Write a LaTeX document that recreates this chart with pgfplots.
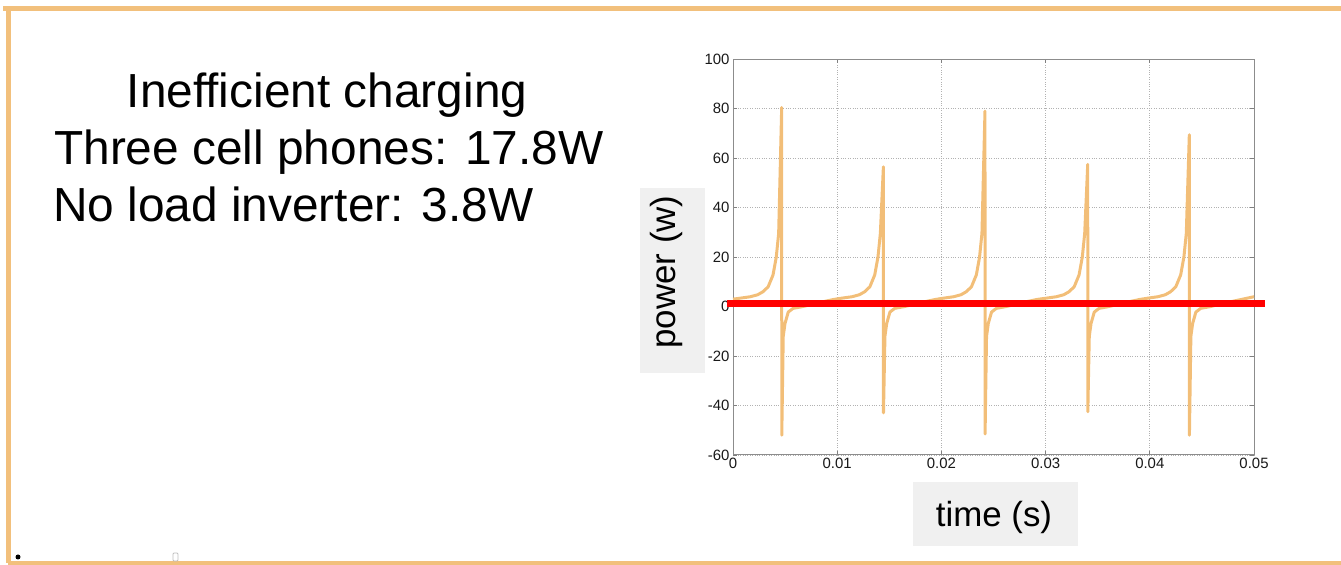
\documentclass[border=0pt]{standalone}
\usepackage{pgfplots}
\pgfplotsset{compat=1.18}
\usepackage{fontspec}
\setmainfont{Liberation Sans}
\definecolor{curve}{RGB}{242,190,120}
\definecolor{frame}{RGB}{242,192,124}
\definecolor{boxgray}{RGB}{240,240,240}
\begin{document}
\begin{tikzpicture}[x=1bp,y=1bp]
\path[use as bounding box] (0,0) rectangle (1341,565);
% slide frame
\draw[frame, line width=5bp] (8,2) -- (8,556.5);
\draw[frame, line width=5bp] (3,556.5) -- (1341,556.5);
\draw[frame, line width=4bp] (8,2) -- (1341,2);
\fill[black] (18,8) circle (2.5);
\draw[black!25, line width=0.8bp, rounded corners=1bp] (173,4) rectangle (178,12);
% left text
\node[anchor=base, inner sep=0pt, font=\fontsize{48}{57}\selectfont] at (327,457) {Inefficient charging};
\node[anchor=base west, inner sep=0pt, font=\fontsize{48}{57}\selectfont] at (54,400) {Three cell phones: 17.8W};
\node[anchor=base west, inner sep=0pt, font=\fontsize{48}{57}\selectfont] at (53,343) {No load inverter: 3.8W};
\begin{axis}[
  at={(733bp,110bp)}, anchor=south west,
  scale only axis, width=521bp, height=395.7bp,
  xmin=0, xmax=0.05, ymin=-60, ymax=100,
  clip=false,
  xtick={0,0.01,0.02,0.03,0.04,0.05},
  xticklabels={0,0.01,0.02,0.03,0.04,0.05},
  ytick={-60,-40,-20,0,20,40,60,80,100},
  yticklabels={-60,-40,-20,0,20,40,60,80,100},
  scaled x ticks=false,
  ticklabel style={font=\fontsize{15}{15}\selectfont, text=black!90},
  axis line style={black!45, line width=1bp},
  tick style={black!50, line width=0.8bp},
  major tick length=4bp,
  grid=major,
  major grid style={dotted, black!30, line width=0.7bp},
]
\addplot[curve, line width=3bp, line join=round] table {
x y
0 3.0
0.00067 3.4
0.00167 4.0
0.00237 4.8
0.00287 6.0
0.00337 8.0
0.00384 12.8
0.00415 20
0.00438 29.6
0.00467 80.5
0.00468 -52
0.00482 -12
0.00499 -6.8
0.00530 -2.2
0.00577 -0.7
0.00667 0
0.00767 1.0
0.00867 2.0
0.00967 2.9
0.01043 3.4
0.01143 4.0
0.01213 4.8
0.01263 6.0
0.01313 8.0
0.01360 12.8
0.01391 20
0.01414 29.6
0.01443 56.5
0.01444 -43
0.01458 -12
0.01475 -6.8
0.01506 -2.2
0.01553 -0.7
0.01643 0
0.01743 1.0
0.01843 2.0
0.01943 2.9
0.02018 3.4
0.02118 4.0
0.02188 4.8
0.02238 6.0
0.02288 8.0
0.02335 12.8
0.02366 20
0.02389 29.6
0.02418 79
0.02419 -51.5
0.02433 -12
0.02450 -6.8
0.02481 -2.2
0.02528 -0.7
0.02618 0
0.02718 1.0
0.02818 2.0
0.02918 2.9
0.03004 3.4
0.03104 4.0
0.03174 4.8
0.03224 6.0
0.03274 8.0
0.03321 12.8
0.03352 20
0.03375 29.6
0.03404 57.5
0.03405 -42.5
0.03419 -12
0.03436 -6.8
0.03467 -2.2
0.03514 -0.7
0.03604 0
0.03704 1.0
0.03804 2.0
0.03904 2.9
0.03979 3.4
0.04079 4.0
0.04149 4.8
0.04199 6.0
0.04249 8.0
0.04296 12.8
0.04327 20
0.04350 29.6
0.04379 69.5
0.04380 -52
0.04394 -12
0.04411 -6.8
0.04442 -2.2
0.04489 -0.7
0.04579 0
0.04679 1.0
0.04779 2.0
0.04879 2.9
0.05 4.0
};
\addplot[red, line width=7bp] coordinates {(-0.0006,1.3) (0.0511,1.3)};
\end{axis}
% axis title boxes
\fill[boxgray] (640,192) rectangle (705,377);
\node[rotate=90, anchor=base, inner sep=0pt, font=\fontsize{35}{35}\selectfont] at (675,293) {power (w)};
\fill[boxgray] (913,19) rectangle (1078,83);
\node[anchor=base, inner sep=0pt, font=\fontsize{35}{35}\selectfont] at (994,38) {time (s)};
\end{tikzpicture}
\end{document}
